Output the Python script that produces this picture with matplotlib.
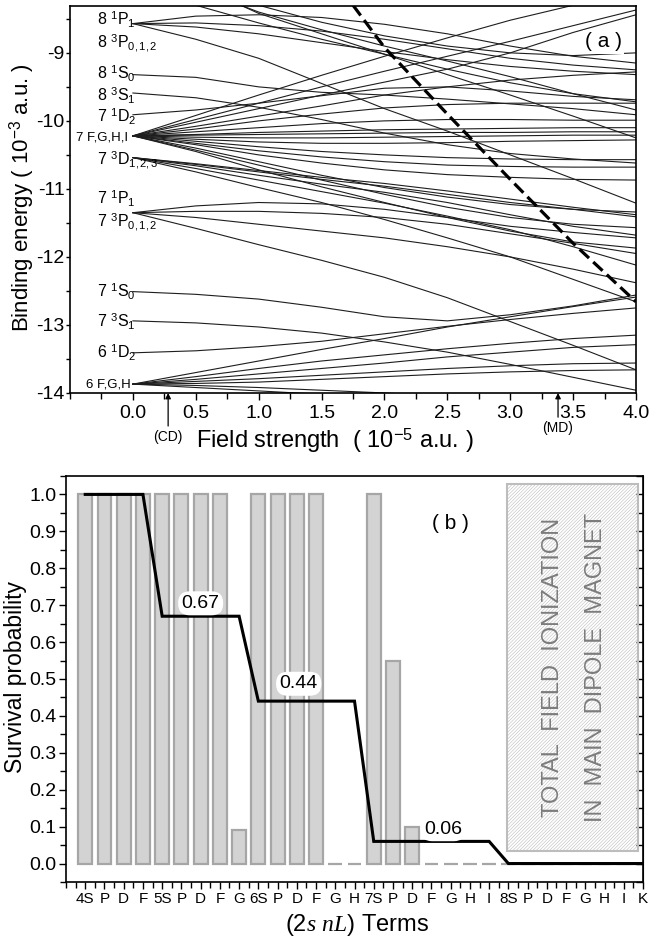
import matplotlib.pyplot as plt
from matplotlib.patches import Rectangle
from matplotlib.ticker import MultipleLocator

plt.rcParams['font.family'] = ['Liberation Sans', 'DejaVu Sans']
plt.rcParams['mathtext.fontset'] = 'custom'
plt.rcParams['mathtext.rm'] = 'Liberation Sans'
plt.rcParams['mathtext.it'] = 'Liberation Serif:italic'
plt.rcParams['axes.unicode_minus'] = False
plt.rcParams['hatch.linewidth'] = 0.4

# ---- panel (a): binding energy (1e-3 a.u.) vs field (1e-5 a.u.)
field = [0.0, 0.5, 1.0, 1.5, 2.0, 2.5, 3.0, 3.5, 4.0]

n8_p = [
    [-8.57, -8.46, -8.44, -8.48, -8.58, -8.72, -8.90, -9.05, -9.15],
    [-8.57, -8.56, -8.60, -8.68, -8.80, -8.94, -9.08, -9.18, -9.25],
    [-8.57, -8.62, -8.72, -8.85, -8.98, -9.10, -9.20, -9.27, -9.32],
    [-8.57, -8.80, -9.08, -9.45, -9.82, -10.15, -10.50, -10.85, -11.21],
]
from_above = [
    [-7.90, -8.30, -8.56, -8.80, -9.02, -9.24, -9.44, -9.60, -9.72],
    [-7.60, -8.05, -8.40, -8.66, -8.90, -9.12, -9.35, -9.60, -9.84],
    [-7.50, -8.00, -8.42, -8.72, -9.02, -9.32, -9.62, -9.93, -10.25],
    [-7.60, -7.95, -8.30, -8.55, -8.75, -8.90, -9.00, -9.04, -9.00],
]
n8_s = [
    [-9.32, -9.36, -9.50, -9.58, -9.62, -9.68, -9.75, -9.82, -9.91],
    [-9.59, -9.66, -9.80, -9.98, -10.18, -10.35, -10.48, -10.56, -10.62],
]
n7_d1 = [
    [-9.91, -9.84, -9.74, -9.63, -9.52, -9.50, -9.56, -9.64, -9.69],
]
n7_fghi = [
    [-10.22, -9.92, -9.62, -9.33, -9.05, -8.78, -8.52, -8.30, -8.10],
    [-10.22, -9.98, -9.74, -9.50, -9.27, -9.05, -8.83, -8.60, -8.37],
    [-10.22, -10.02, -9.82, -9.62, -9.43, -9.24, -9.00, -8.70, -8.44],
    [-10.22, -10.08, -9.93, -9.78, -9.62, -9.50, -9.40, -9.33, -9.28],
    [-10.22, -10.12, -10.00, -9.90, -9.81, -9.76, -9.74, -9.74, -9.74],
    [-10.22, -10.16, -10.10, -10.04, -10.00, -9.98, -9.98, -9.99, -9.99],
    [-10.22, -10.20, -10.17, -10.15, -10.13, -10.12, -10.11, -10.10, -10.10],
    [-10.22, -10.21, -10.20, -10.19, -10.18, -10.17, -10.17, -10.16, -10.16],
    [-10.22, -10.24, -10.25, -10.25, -10.24, -10.23, -10.22, -10.21, -10.21],
    [-10.22, -10.27, -10.31, -10.33, -10.33, -10.32, -10.30, -10.29, -10.28],
    [-10.22, -10.30, -10.38, -10.45, -10.50, -10.54, -10.56, -10.57, -10.57],
    [-10.22, -10.33, -10.44, -10.53, -10.60, -10.65, -10.67, -10.68, -10.68],
    [-10.22, -10.35, -10.50, -10.62, -10.72, -10.79, -10.83, -10.86, -10.87],
    [-10.22, -10.40, -10.60, -10.80, -10.98, -11.12, -11.23, -11.30, -11.34],
    [-10.22, -10.43, -10.65, -10.87, -11.08, -11.27, -11.42, -11.52, -11.57],
    [-10.22, -10.45, -10.72, -10.97, -11.20, -11.42, -11.62, -11.78, -11.87],
]
n7_d3 = [
    [-10.54, -10.63, -10.73, -10.83, -10.92, -11.03, -11.15, -11.27, -11.38],
    [-10.54, -10.64, -10.75, -10.86, -10.96, -11.08, -11.20, -11.30, -11.41],
    [-10.54, -10.66, -10.80, -10.93, -11.05, -11.20, -11.38, -11.55, -11.68],
    [-10.54, -10.70, -10.87, -11.04, -11.21, -11.40, -11.60, -11.85, -12.12],
    [-10.54, -10.75, -10.98, -11.20, -11.45, -11.72, -12.00, -12.33, -12.66],
]
n7_p = [
    [-11.35, -11.25, -11.20, -11.22, -11.30, -11.42, -11.55, -11.64, -11.72],
    [-11.35, -11.33, -11.33, -11.36, -11.42, -11.52, -11.66, -11.80, -11.95],
    [-11.35, -11.42, -11.52, -11.62, -11.72, -11.85, -12.00, -12.18, -12.38],
    [-11.35, -11.58, -11.82, -12.05, -12.30, -12.60, -12.95, -13.30, -13.66],
]
n7_s = [
    [-12.51, -12.55, -12.62, -12.74, -12.88, -12.94, -12.85, -12.72, -12.56],
    [-12.94, -12.97, -13.03, -13.12, -13.25, -13.40, -13.58, -13.77, -13.96],
]
n6_d = [
    [-13.41, -13.38, -13.32, -13.24, -13.13, -13.02, -12.92, -12.83, -12.75],
]
n6_fgh = [
    [-13.87, -13.70, -13.53, -13.36, -13.20, -13.03, -12.88, -12.73, -12.59],
    [-13.87, -13.76, -13.64, -13.53, -13.44, -13.35, -13.27, -13.20, -13.15],
    [-13.87, -13.80, -13.72, -13.64, -13.56, -13.47, -13.40, -13.33, -13.29],
    [-13.87, -13.83, -13.79, -13.74, -13.69, -13.64, -13.60, -13.57, -13.56],
    [-13.87, -13.86, -13.84, -13.80, -13.76, -13.72, -13.69, -13.67, -13.66],
    [-13.87, -13.89, -13.92, -13.96, -14.00, -14.05, -14.10, -14.15, -14.20],
    [-13.87, -13.92, -13.97, -14.02, -14.07, -14.12, -14.17, -14.22, -14.27],
]
# classical ionization limit (dashed)
limit_field = [1.75, 2.0, 2.5, 3.0, 3.5, 4.0]
limit_energy = [-8.30, -8.92, -9.90, -10.86, -11.80, -12.66]

level_labels = [r'8 $^{1}$P$_{1}$', r'8 $^{3}$P$_{0,1,2}$', r'8 $^{1}$S$_{0}$', r'8 $^{3}$S$_{1}$',
                r'7 $^{1}$D$_{2}$', '7 F,G,H,I', r'7 $^{3}$D$_{1,2,3}$', r'7 $^{1}$P$_{1}$',
                r'7 $^{3}$P$_{0,1,2}$', r'7 $^{1}$S$_{0}$', r'7 $^{3}$S$_{1}$', r'6 $^{1}$D$_{2}$', '6 F,G,H']
level_label_e = [-8.52, -8.85, -9.31, -9.63, -9.94, -10.24, -10.57, -11.15, -11.49, -12.51, -12.96, -13.41, -13.87]

# ---- panel (b): survival probability per 2s nL term
terms = ['4S', 'P', 'D', 'F', '5S', 'P', 'D', 'F', 'G', '6S', 'P', 'D', 'F', 'G', 'H',
         '7S', 'P', 'D', 'F', 'G', 'H', 'I', '8S', 'P', 'D', 'F', 'G', 'H', 'I', 'K']
term_prob = [1, 1, 1, 1, 1, 1, 1, 1, 0.09, 1, 1, 1, 1, 0, 0,
             1, 0.55, 0.10, 0, 0, 0, 0, 0, 0, 0, 0, 0, 0, 0, 0]
shell_prob = [1, 1, 1, 1, 0.67, 0.67, 0.67, 0.67, 0.67, 0.44, 0.44, 0.44, 0.44, 0.44, 0.44,
              0.06, 0.06, 0.06, 0.06, 0.06, 0.06, 0.06, 0, 0, 0, 0, 0, 0, 0, 0]
shell_names = ['0.67', '0.44', '0.06']
shell_label_pos = [(6.0, 0.705), (11.1, 0.487), (18.6, 0.093)]

fig = plt.figure(figsize=(6.49, 9.41), dpi=100)

# ---------------- (a)
ax = fig.add_axes([0.1079, 0.5824, 0.8721, 0.4113])
for group in [n8_p, from_above, n8_s, n7_d1, n7_fghi, n7_d3, n7_p, n7_s, n6_d, n6_fgh]:
    for curve in group:
        ax.plot(field, curve, color='#1e1e1e', lw=0.8)
ax.plot(limit_field, limit_energy, color='k', lw=2.3, linestyle=(0, (4.0, 1.8)))

ax.set_xlim(-0.5, 4.0)
ax.set_ylim(-14.0, -8.31)
ax.xaxis.set_minor_locator(MultipleLocator(0.25))
ax.yaxis.set_minor_locator(MultipleLocator(0.5))
ax.set_xticks([0, 0.5, 1, 1.5, 2, 2.5, 3, 3.5, 4])
ax.set_xticklabels(['0.0', '0.5', '1.0', '1.5', '2.0', '2.5', '3.0', '3.5', '4.0'])
ax.set_yticks([-14, -13, -12, -11, -10, -9])
ax.tick_params(which='both', direction='out', labelsize=14, width=1)
ax.tick_params(which='major', length=5)
ax.tick_params(which='minor', length=4)
ax.tick_params(axis='y', which='major', length=3, pad=1)
ax.tick_params(axis='y', which='minor', length=3)
for s in ax.spines.values():
    s.set_linewidth(1.2)

for lab, e in zip(level_labels, level_label_e):
    if 'F,G' in lab:
        x0 = -0.45 if lab.startswith('7') else -0.37
        ax.text(x0, e, lab, fontsize=9.5, ha='left', va='center')
    else:
        ax.text(-0.288, e, lab, fontsize=11.5, ha='left', va='center')

ax.text(3.74, -8.84, '( a )', fontsize=15, ha='center', va='center',
        bbox=dict(fc='white', ec='none', pad=1.5))

ax.annotate('(CD)', xy=(0.28, -14.0), xytext=(0.28, -14.65), annotation_clip=False,
            ha='center', va='center', fontsize=10,
            arrowprops=dict(arrowstyle='-|>', color='k', lw=0.9, mutation_scale=8, shrinkA=1, shrinkB=0))
ax.annotate('(MD)', xy=(3.38, -14.0), xytext=(3.38, -14.52), annotation_clip=False,
            ha='center', va='center', fontsize=10,
            arrowprops=dict(arrowstyle='-|>', color='k', lw=0.9, mutation_scale=8, shrinkA=1, shrinkB=0))

ax.set_xlabel(r'Field strength  ( 10$^{-5}$ a.u. )', fontsize=17, va='center')
ax.xaxis.set_label_coords(0.468, -0.124)
ax.set_ylabel(r'Binding energy ( 10$^{-3}$ a.u. )', fontsize=16, va='center')
ax.yaxis.set_label_coords(-0.084, 0.504)

# ---------------- (b)
bx = fig.add_axes([0.1017, 0.0627, 0.8891, 0.4315])
idx = list(range(len(terms)))
bx.bar(idx, term_prob, width=0.72, color='#d3d3d3', edgecolor='#a6a6a6', lw=1.6, zorder=2)
bx.plot(idx, shell_prob, color='k', lw=2.2, zorder=4, solid_joinstyle='miter')

bx.add_patch(Rectangle((21.93, 0.035), 6.8, 0.992, fill=False, hatch='/' * 10,
                       edgecolor='#bdbdbd', lw=1.5, zorder=1))
bx.text(24.3, 0.53, 'TOTAL  FIELD  IONIZATION', rotation=90, fontsize=17, color='#7c7c7c',
        ha='center', va='center', zorder=3)
bx.text(26.55, 0.53, 'IN  MAIN  DIPOLE  MAGNET', rotation=90, fontsize=17, color='#7c7c7c',
        ha='center', va='center', zorder=3)

for name, (px, py) in zip(shell_names, shell_label_pos):
    bx.text(px, py, name, fontsize=14, ha='center', va='center', zorder=5,
            bbox=dict(boxstyle='round,pad=0.18,rounding_size=0.6', fc='white', ec='none'))
bx.text(19.0, 0.92, '( b )', fontsize=15, ha='center', va='center')

bx.set_xlim(-1, 29)
bx.set_ylim(-0.05, 1.05)
bx.set_xticks(idx)
bx.set_xticklabels(terms, fontsize=11)
bx.xaxis.set_minor_locator(MultipleLocator(0.5))
bx.set_yticks([i / 10 for i in range(11)])
bx.set_yticklabels(['%.1f' % (i / 10) for i in range(11)])
bx.yaxis.set_minor_locator(MultipleLocator(0.05))
bx.tick_params(axis='y', labelsize=14)
bx.tick_params(which='both', direction='out', width=1)
bx.tick_params(which='major', length=5, pad=2)
bx.tick_params(which='minor', length=4)
for s in bx.spines.values():
    s.set_linewidth(1.2)
rx = bx.secondary_yaxis('right')
rx.yaxis.set_major_locator(MultipleLocator(0.05))
rx.tick_params(direction='in', length=5, labelright=False, width=1)

bx.set_ylabel('Survival probability', fontsize=16.5, va='center')
bx.yaxis.set_label_coords(-0.088, 0.505)
bx.set_xlabel(r'(2$\mathit{s}$ $\mathit{nL}$) Terms', fontsize=17, va='center')
bx.xaxis.set_label_coords(0.504, -0.106)

fig.savefig('out.png', dpi=100)
